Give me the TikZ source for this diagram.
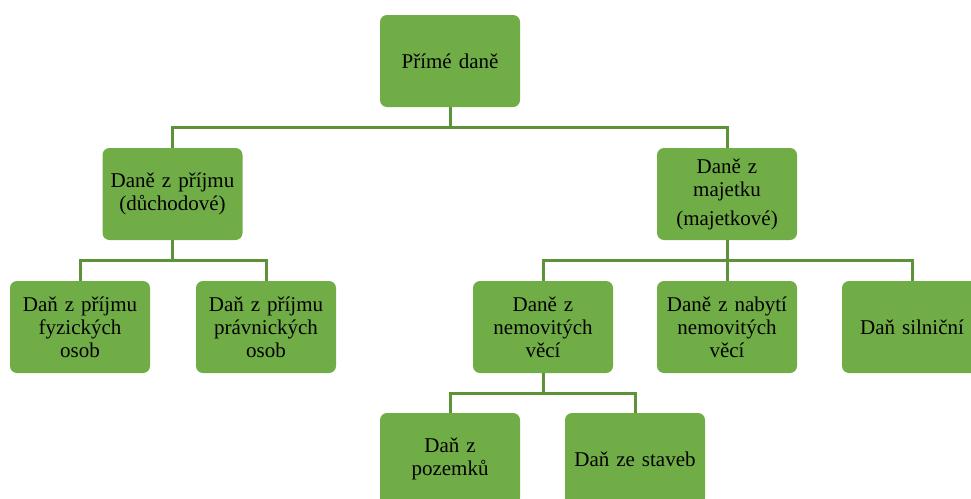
\documentclass[tikz,border=0pt]{standalone}
\usepackage{fontspec}
\setmainfont{Liberation Serif}
\definecolor{boxgreen}{HTML}{70AD47}
\definecolor{linegreen}{HTML}{5E9239}
\begin{document}
\begin{tikzpicture}[x=1pt,y=-1pt,
  box/.style={rectangle, rounded corners=7pt, fill=boxgreen, draw=none,
    minimum width=140pt, minimum height=92pt, inner sep=2pt,
    text width=134pt, align=center, font=\fontsize{21}{23}\selectfont},
  conn/.style={draw=linegreen, line width=3pt}]
\useasboundingbox (0,0) rectangle (971,498);
\clip (0,0) rectangle (971,498);
\node[box] (top) at (450,61) {Přímé daně};
\node[box] (inc) at (172.5,194) {Daně z příjmu\\(důchodové)};
\node[box] (maj) at (727,194) {Daně z\\majetku\\[6pt](majetkové)};
\node[box] (fo) at (80,327) {Daň z příjmu\\fyzických\\osob};
\node[box] (po) at (266,327) {Daň z příjmu\\právnických\\osob};
\node[box] (nem) at (543,327) {Daně z\\nemovitých\\věcí};
\node[box] (nab) at (727,327) {Daně z nabytí\\nemovitých\\věcí};
\node[box] (sil) at (912,327) {Daň silniční};
\node[box] (poz) at (450,459) {Daň z\\pozemků};
\node[box] (sta) at (635,459) {Daň ze staveb};
\draw[conn] (top.south) -- ++(0,20) coordinate (b1);
\draw[conn] (b1) -| (inc.north);
\draw[conn] (b1) -| (maj.north);
\draw[conn] (inc.south) -- ++(0,20) coordinate (b2);
\draw[conn] (b2) -| (fo.north);
\draw[conn] (b2) -| (po.north);
\draw[conn] (maj.south) -- ++(0,20) coordinate (b3);
\draw[conn] (b3) -| (nem.north);
\draw[conn] (b3) -| (nab.north);
\draw[conn] (b3) -| (sil.north);
\draw[conn] (nem.south) -- ++(0,20) coordinate (b4);
\draw[conn] (b4) -| (poz.north);
\draw[conn] (b4) -| (sta.north);
\end{tikzpicture}
\end{document}
